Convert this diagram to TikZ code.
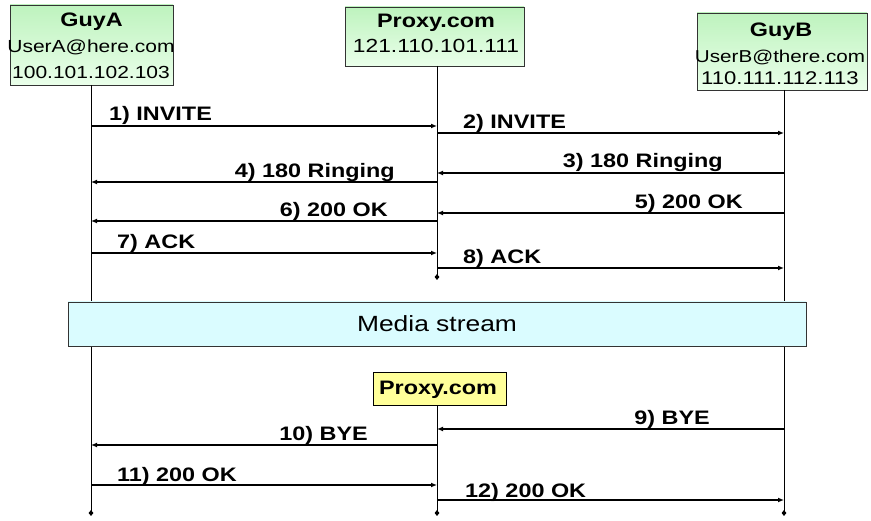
\documentclass[tikz,border=0pt]{standalone}
\usepackage{fontspec}
\setmainfont{Liberation Sans}[FakeStretch=1.2]
\usetikzlibrary{arrows.meta,shapes.geometric}
\definecolor{gtop}{RGB}{190,243,190}
\definecolor{gbot}{RGB}{234,255,234}
\definecolor{cedge}{RGB}{218,252,255}
\definecolor{cmid}{RGB}{192,246,251}
\definecolor{yel}{RGB}{255,255,153}
\begin{document}
\begin{tikzpicture}[x=1pt,y=-1pt,
  greenbox/.style={draw=black!80,line width=0.9pt,top color=gtop,bottom color=gbot,inner sep=0,anchor=center},
  txt/.style={inner sep=0,anchor=base},
  ttl/.style={txt,font=\fontsize{19.5}{20}\selectfont\bfseries},
  lbl/.style={inner sep=0,font=\fontsize{19.5}{20}\selectfont\bfseries},
  life/.style={line width=0.8pt,black},
  msg/.style={line width=1.2pt,-{Latex[length=6pt,width=5pt]}},
  enddot/.style={diamond,fill=black,inner sep=0,minimum width=5pt,minimum height=6pt}]
\useasboundingbox (0,0) rectangle (871,521);
% boxes
\node[greenbox,minimum width=163pt,minimum height=80pt] (boxA) at (91.5,45) {};
\node[greenbox,minimum width=179pt,minimum height=59pt] (boxP) at (434.5,36.5) {};
\node[greenbox,minimum width=170pt,minimum height=77pt] (boxB) at (782,51.5) {};
% box texts
\node[ttl] (tA) at (91.5,27) {GuyA};
\node[txt,font=\fontsize{17.5}{18}\selectfont] (eA) at (91,53) {UserA@here.com};
\node[txt,font=\fontsize{17.5}{18}\selectfont] (iA) at (91,79) {100.101.102.103};
\node[ttl] (tP) at (436,28) {Proxy.com};
\node[txt,font=\fontsize{19}{19}\selectfont] (iP) at (436,53) {121.110.101.111};
\node[ttl] (tB) at (781,37) {GuyB};
\node[txt,font=\fontsize{17.2}{18}\selectfont] (eB) at (780,63) {UserB@there.com};
\node[txt,font=\fontsize{18.4}{19}\selectfont] (iB) at (780,85) {110.111.112.113};
% lifeline coordinates
\coordinate (A0) at (91,85);
\coordinate (Aend) at (91,513);
\coordinate (P0) at (437,66);
\coordinate (Pmid) at (437,277);
\coordinate (P2) at (437,405);
\coordinate (Pend) at (437,513);
\coordinate (B0) at (784,90);
\coordinate (Bend) at (784,513);
\draw[life] (A0) -- (Aend);
\draw[life] (P0) -- (Pmid);
\draw[life] (P2) -- (Pend);
\draw[life] (B0) -- (Bend);
\node[enddot] (dA) at (Aend) {};
\node[enddot] (dPm) at (Pmid) {};
\node[enddot] (dP) at (Pend) {};
\node[enddot] (dB) at (Bend) {};
% media stream
\node[draw=black!80,line width=0.9pt,top color=cedge,middle color=cmid,bottom color=cedge,minimum width=738pt,minimum height=44pt,inner sep=0] (media) at (437,324) {};
\node[txt,font=\fontsize{22}{22}\selectfont] (mtxt) at (437,332) {Media stream};
% yellow proxy box
\node[draw=black,line width=0.9pt,fill=yel,minimum width=133pt,minimum height=33pt,inner sep=0] (boxY) at (439.5,388.5) {};
\node[ttl] (tY) at (438,395) {Proxy.com};
% message coordinates
\coordinate (a1) at (91,126);  \coordinate (p1) at (437,126);
\coordinate (p2) at (437,133); \coordinate (b2) at (784,133);
\coordinate (b3) at (784,173); \coordinate (p3) at (437,173);
\coordinate (p4) at (437,182); \coordinate (a4) at (91,182);
\coordinate (b5) at (784,213); \coordinate (p5) at (437,213);
\coordinate (p6) at (437,221); \coordinate (a6) at (91,221);
\coordinate (a7) at (91,253);  \coordinate (p7) at (437,253);
\coordinate (p8) at (437,268); \coordinate (b8) at (784,268);
\coordinate (b9) at (784,429); \coordinate (p9) at (437,429);
\coordinate (p10) at (437,445); \coordinate (a10) at (91,445);
\coordinate (a11) at (91,485); \coordinate (p11) at (437,485);
\coordinate (p12) at (437,500); \coordinate (b12) at (784,500);
\draw[msg] (a1) -- (p1);
\draw[msg] (p2) -- (b2);
\draw[msg] (b3) -- (p3);
\draw[msg] (p4) -- (a4);
\draw[msg] (b5) -- (p5);
\draw[msg] (p6) -- (a6);
\draw[msg] (a7) -- (p7);
\draw[msg] (p8) -- (b8);
\draw[msg] (b9) -- (p9);
\draw[msg] (p10) -- (a10);
\draw[msg] (a11) -- (p11);
\draw[msg] (p12) -- (b12);
% labels
\node[lbl,anchor=base west] (l1) at (109,121) {1) INVITE};
\node[lbl,anchor=base west] (l2) at (463,129) {2) INVITE};
\node[lbl,anchor=base east] (l3) at (723,168) {3) 180 Ringing};
\node[lbl,anchor=base east] (l4) at (395,178) {4) 180 Ringing};
\node[lbl,anchor=base east] (l5) at (743,209) {5) 200 OK};
\node[lbl,anchor=base east] (l6) at (388,217) {6) 200 OK};
\node[lbl,anchor=base west] (l7) at (117,249) {7) ACK};
\node[lbl,anchor=base west] (l8) at (463,264) {8) ACK};
\node[lbl,anchor=base east] (l9) at (710,425) {9) BYE};
\node[lbl,anchor=base east] (l10) at (368,441) {10) BYE};
\node[lbl,anchor=base west] (l11) at (117,482) {11) 200 OK};
\node[lbl,anchor=base west] (l12) at (465,497) {12) 200 OK};
\end{tikzpicture}
\end{document}
